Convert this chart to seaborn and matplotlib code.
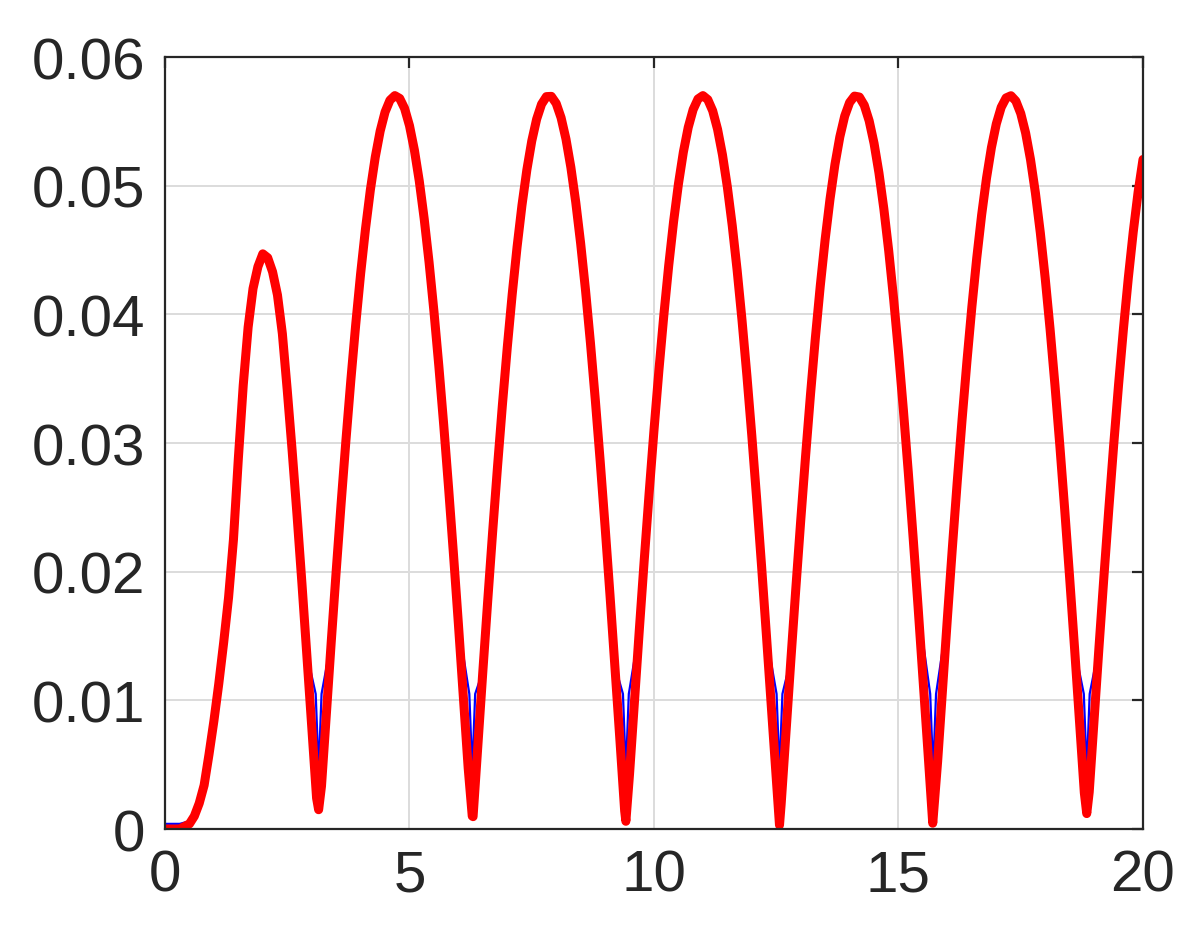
import numpy as np
import pandas as pd
import matplotlib
matplotlib.use('Agg')
import matplotlib.pyplot as plt
import seaborn as sns

# ── Data ────────────────────────────────────────────────────
# time grid 0 .. 20, step 0.1
t = np.round(np.linspace(0, 20, 201), 1)

# red response sampled on the grid
red_vals = [
    # 0.0 - 3.1 (start-up hump)
    0.0000, 0.0000, 0.0000, 0.0000, 0.0002, 0.0004, 0.0010, 0.0020, 0.0034, 0.0058,
    0.0084, 0.0113, 0.0145, 0.0180, 0.0225, 0.0288, 0.0345, 0.0390, 0.0420, 0.0437,
    0.0447, 0.0444, 0.0433, 0.0415, 0.0385, 0.0341, 0.0294, 0.0244, 0.0191, 0.0136,
    0.0080, 0.0024,
    # 3.2 - 6.2
    0.00333, 0.00899, 0.01457, 0.02000, 0.02522, 0.03020, 0.03486, 0.03920, 0.04314, 0.04664,
    0.04968, 0.05222, 0.05424, 0.05572, 0.05664, 0.05700, 0.05678, 0.05600, 0.05466, 0.05277,
    0.05036, 0.04744, 0.04405, 0.04022, 0.03598, 0.03139, 0.02648, 0.02131, 0.01593, 0.01038,
    0.00474,
    # 6.3 - 9.4
    0.00096, 0.00664, 0.01226, 0.01776, 0.02308, 0.02816, 0.03297, 0.03745, 0.04155, 0.04524,
    0.04848, 0.05123, 0.05347, 0.05517, 0.05633, 0.05692, 0.05694, 0.05639, 0.05528, 0.05362,
    0.05142, 0.04871, 0.04551, 0.04186, 0.03779, 0.03334, 0.02856, 0.02349, 0.01819, 0.01270,
    0.00709, 0.00141,
    # 9.5 - 12.5
    0.00428, 0.00994, 0.01549, 0.02089, 0.02608, 0.03101, 0.03563, 0.03989, 0.04376, 0.04719,
    0.05014, 0.05260, 0.05453, 0.05591, 0.05674, 0.05700, 0.05669, 0.05582, 0.05438, 0.05240,
    0.04990, 0.04690, 0.04343, 0.03953, 0.03523, 0.03058, 0.02563, 0.02042, 0.01500, 0.00944,
    0.00378,
    # 12.6 - 15.7
    0.00192, 0.00759, 0.01320, 0.01867, 0.02395, 0.02899, 0.03375, 0.03817, 0.04220, 0.04582,
    0.04897, 0.05164, 0.05379, 0.05541, 0.05646, 0.05696, 0.05689, 0.05625, 0.05504, 0.05329,
    0.05100, 0.04821, 0.04493, 0.04121, 0.03707, 0.03256, 0.02773, 0.02261, 0.01728, 0.01177,
    0.00614, 0.00045,
    # 15.8 - 18.8
    0.00524, 0.01088, 0.01641, 0.02178, 0.02693, 0.03181, 0.03637, 0.04057, 0.04437, 0.04772,
    0.05059, 0.05296, 0.05480, 0.05609, 0.05682, 0.05699, 0.05658, 0.05561, 0.05409, 0.05202,
    0.04943, 0.04635, 0.04281, 0.03884, 0.03448, 0.02977, 0.02477, 0.01952, 0.01408, 0.00849,
    0.00282,
    # 18.9 - 20.0
    0.00287, 0.00854, 0.01413, 0.01957, 0.02482, 0.02982, 0.03452, 0.03887, 0.04284, 0.04639,
    0.04950, 0.05204,
]

# troughs (between grid points)
trough_t    = [3.1416, 6.2832, 9.4248, 12.5664, 15.7080, 18.8496]
trough_red  = [0.0015, 0.0010, 0.0006, 0.0003, 0.0008, 0.0012]
trough_blue = [0.0045, 0.0045, 0.0045, 0.0045, 0.0045, 0.0045]

# blue differs from red only at the start and in narrow troughs
blue_start_t    = [0.0, 0.1, 0.2, 0.3, 0.4, 0.5, 0.6]
blue_start_vals = [0.0004, 0.0004, 0.0004, 0.0004, 0.0005, 0.0006, 0.0012]
blue_arm_dt  = 0.06
blue_arm_val = 0.0105

# ── Build frames ─────────────────────────────────────────────
red_df = pd.concat([
    pd.DataFrame({'t': t, 'y': red_vals}),
    pd.DataFrame({'t': trough_t, 'y': trough_red}),
]).sort_values('t')

blue_df = pd.DataFrame({'t': t, 'y': red_vals})
for ts, v in zip(blue_start_t, blue_start_vals):
    blue_df.loc[np.isclose(blue_df['t'], ts), 'y'] = v
# inside the troughs the blue curve is narrower than the red one
near = np.zeros(len(blue_df), dtype=bool)
for m in trough_t:
    near |= (np.abs(blue_df['t'].values - m) < 0.3) & (blue_df['y'].values < 0.012)
blue_df = blue_df[~near]
tips = []
for m, v in zip(trough_t, trough_blue):
    tips += [(m - blue_arm_dt, blue_arm_val), (m, v), (m + blue_arm_dt, blue_arm_val)]
blue_df = pd.concat([blue_df, pd.DataFrame(tips, columns=['t', 'y'])]).sort_values('t')

# ── Plot ─────────────────────────────────────────────────────
sns.set_style('white')
plt.rcParams['font.family'] = ['Liberation Sans', 'DejaVu Sans']

fig = plt.figure(figsize=(12, 9.28), dpi=100)
ax = fig.add_axes([0.1375, 0.1056, 0.815, 0.8319])

sns.lineplot(data=blue_df, x='t', y='y', color='#0000ff', linewidth=1.6,
             estimator=None, sort=False, ax=ax, zorder=3)
sns.lineplot(data=red_df, x='t', y='y', color='#ff0000', linewidth=6.5,
             estimator=None, sort=False, ax=ax, zorder=4)

ax.set_xlim(0, 20)
ax.set_ylim(0, 0.06)
ax.set_xticks([0, 5, 10, 15, 20])
ax.set_yticks([0, 0.01, 0.02, 0.03, 0.04, 0.05, 0.06])
ax.set_xticklabels(['0', '5', '10', '15', '20'])
ax.set_yticklabels(['0', '0.01', '0.02', '0.03', '0.04', '0.05', '0.06'])
ax.set_xlabel('')
ax.set_ylabel('')

ax.grid(True, color='#dcdcdc', linewidth=1.4)
ax.set_axisbelow(True)
for s in ax.spines.values():
    s.set_visible(True)
    s.set_color('#262626')
    s.set_linewidth(1.6)
    s.set_zorder(5)

ax.tick_params(axis='both', direction='in', length=8, width=1.6, color='#262626',
               labelcolor='#262626', labelsize=42, top=True, right=True)
ax.tick_params(axis='x', pad=14)
ax.tick_params(axis='y', pad=14)

plt.savefig('out.png', dpi=100)
